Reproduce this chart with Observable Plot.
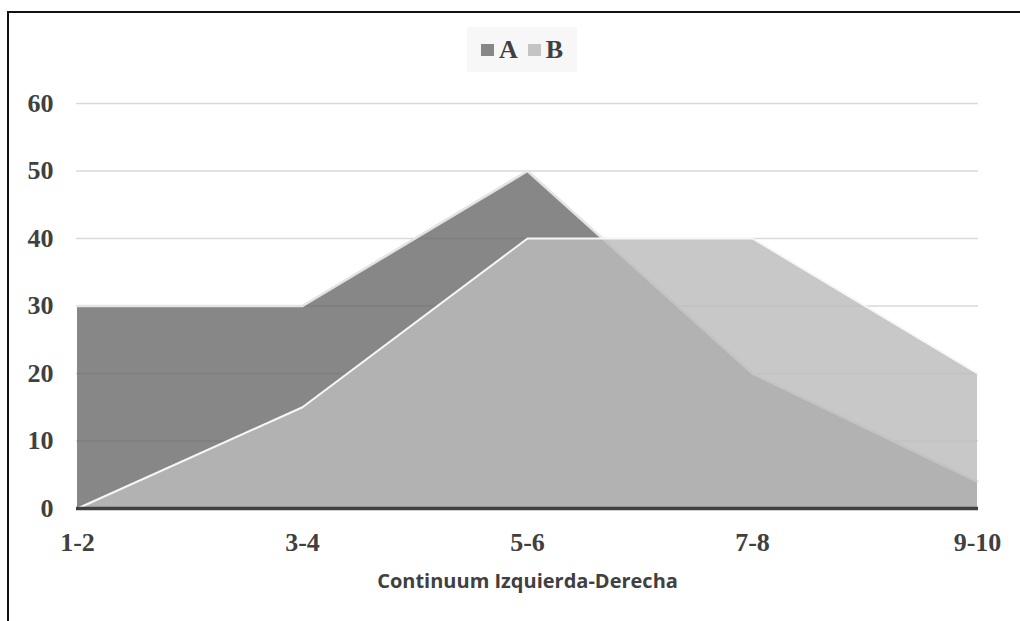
<!DOCTYPE html>
<html>
<head>
<meta charset="utf-8">
<script src="https://cdn.jsdelivr.net/npm/d3@7"></script>
<script src="https://cdn.jsdelivr.net/npm/@observablehq/plot@0.6"></script>
<style>
  body { margin: 0; background: #fff; overflow: hidden; }
  #wrap { position: relative; width: 1020px; height: 621px; }
  #chart { position: absolute; left: 0; top: 0; }
  #frame { position: absolute; left: 7px; top: 11px; width: 1100px; height: 700px;
           border-left: 2px solid #111; border-top: 2px solid #111; pointer-events: none; }
  #legend { position: absolute; left: 467px; top: 27px; width: 110px; height: 45px;
            background: #f7f7f7; display: flex; align-items: center; justify-content: center;
            font: bold 26px "Liberation Serif", serif; color: #404040; }
  #legend .item { display: flex; align-items: center; margin: 0 5px; }
  #legend .sw { width: 13px; height: 12px; margin-right: 5px; }
</style>
</head>
<body>
<div id="wrap">
  <div id="chart"></div>
  <div id="frame"></div>
  <div id="legend"></div>
</div>
<script>
// Ranges on the left-right continuum
const categories = ["1-2", "3-4", "5-6", "7-8", "9-10"];
// Percentage per range for each group
const seriesA = [30, 30, 50, 20, 4];
const seriesB = [0, 15, 40, 40, 20];
const seriesNames = ["A", "B"];
const yTicks = [0, 10, 20, 30, 40, 50, 60];
const axisTitle = "Continuum Izquierda-Derecha";

const rowsA = categories.map((c, i) => ({cat: c, v: seriesA[i]}));
const rowsB = categories.map((c, i) => ({cat: c, v: seriesB[i]}));

const swatch = {A: "#878787", B: "#c4c4c4"};

const chart = Plot.plot({
  width: 1020,
  height: 621,
  marginLeft: 76,
  marginRight: 42,
  marginTop: 103,
  marginBottom: 113,
  style: {fontFamily: "'Liberation Serif', serif", fontWeight: "bold", fontSize: "26px", color: "#404040", background: "transparent"},
  x: {type: "point", domain: categories, padding: 0},
  y: {domain: [0, 60]},
  marks: [
    Plot.gridY(yTicks.filter(d => d > 0), {stroke: "#d9d9d9", strokeOpacity: 1, strokeWidth: 1.5}),
    Plot.areaY(rowsA, {x: "cat", y: "v", fill: "#5f5f5f", fillOpacity: 0.75}),
    Plot.lineY(rowsA, {x: "cat", y: "v", stroke: "#e4e4e4", strokeWidth: 2.5}),
    Plot.areaY(rowsB, {x: "cat", y: "v", fill: "#bcbcbc", fillOpacity: 0.82}),
    Plot.lineY(rowsB, {x: "cat", y: "v", stroke: "#f6f6f6", strokeWidth: 2}),
    Plot.ruleY([0], {stroke: "#404040", strokeWidth: 3.5}),
    Plot.axisY({ticks: yTicks, tickSize: 0, tickPadding: 23, label: null}),
    Plot.axisX({tickSize: 0, tickPadding: 24, label: null}),
    Plot.text([axisTitle], {frameAnchor: "bottom", dy: 73, lineAnchor: "middle",
      fontFamily: "'Open Sans', sans-serif", fontWeight: 700, fontSize: 20, fill: "#404040"})
  ]
});
document.getElementById("chart").appendChild(chart);

const legend = document.getElementById("legend");
for (const name of seriesNames) {
  const item = document.createElement("div");
  item.className = "item";
  const sw = document.createElement("span");
  sw.className = "sw";
  sw.style.background = swatch[name];
  const label = document.createElement("span");
  label.textContent = name;
  item.appendChild(sw);
  item.appendChild(label);
  legend.appendChild(item);
}
</script>
</body>
</html>
